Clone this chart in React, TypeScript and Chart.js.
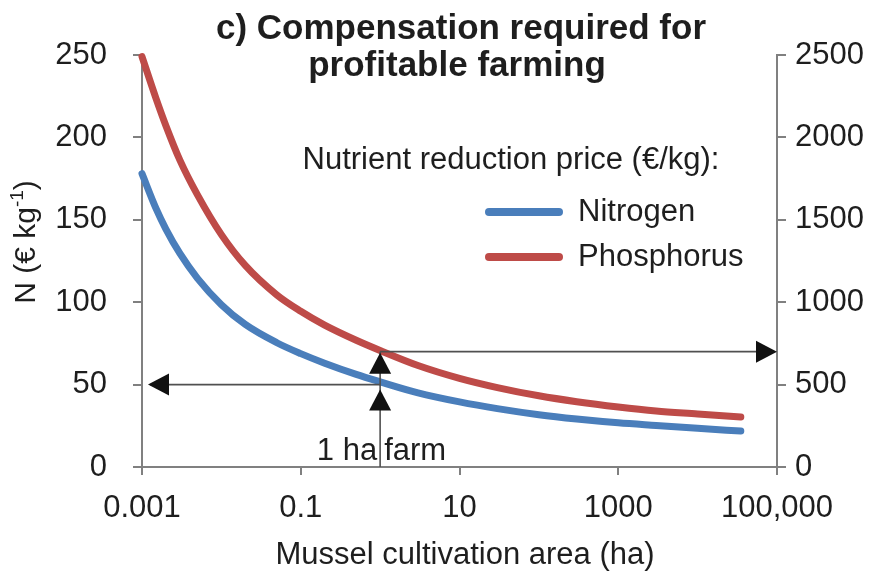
import React, { useEffect, useRef } from 'react';
import { Chart, registerables } from 'chart.js';

Chart.register(...registerables);

// Mussel cultivation area (ha)
const areaHa = [0.001, 0.0015, 0.002, 0.003, 0.005, 0.01, 0.02, 0.05, 0.1, 0.2, 0.5, 1, 3, 10, 30, 100, 300, 1000, 3000, 10000, 35000];
// Nitrogen price (€/kg), left axis
const nitrogenPrice = [178, 156.9, 144.4, 129.6, 114.5, 98.5, 86.5, 75.4, 68.8, 63, 56.2, 51.7, 45, 39.5, 35.4, 31.7, 29.1, 26.8, 25.2, 23.5, 21.8];
// Phosphorus price (€/kg), right axis
const phosphorusPrice = [2490, 2237, 2071, 1862, 1651, 1410, 1223, 1044, 945, 861, 769, 707, 616, 538, 482, 432, 396, 364, 340, 322, 303];

const xTickValues = [0.001, 0.1, 10, 1000, 100000];
const xTickLabels = ['0.001', '0.1', '10', '1000', '100,000'];

const titleLines = ['c) Compensation required for', 'profitable farming'];
const legendTitle = 'Nutrient reduction price (€/kg):';
const seriesNames = ['Nitrogen', 'Phosphorus'];
const seriesColors = ['#4A7EBB', '#BE4B48'];

// 1 ha farm annotation
const farmArea = 1;
const farmNitrogen = 50;
const farmPhosphorus = 700;
const farmLabel = ['1 ha', 'farm'];

const FONT = '"Liberation Sans", Arial, sans-serif';
const TEXT = '#1e1e1e';
const AXIS = '#808080';
const FS = 31;

const overlayPlugin = {
  id: 'overlay',
  afterDatasetsDraw(chart: any) {
    const ctx = chart.ctx as CanvasRenderingContext2D;
    const xs = chart.scales.x;
    const ys = chart.scales.y;
    const y1s = chart.scales.y1;
    const fx = xs.getPixelForValue(farmArea);
    const yN = ys.getPixelForValue(farmNitrogen);
    const yP = y1s.getPixelForValue(farmPhosphorus);
    const yB = ys.getPixelForValue(0);

    ctx.save();
    ctx.strokeStyle = '#505050';
    ctx.lineWidth = 1.6;
    const line = (a: number, b: number, c: number, d: number) => {
      ctx.beginPath();
      ctx.moveTo(a, b);
      ctx.lineTo(c, d);
      ctx.stroke();
    };
    line(fx, yB, fx, yP);
    line(fx, yN, xs.left + 8, yN);
    line(fx, yP, xs.right - 4, yP);

    ctx.fillStyle = '#111';
    const tri = (p: number[][]) => {
      ctx.beginPath();
      ctx.moveTo(p[0][0], p[0][1]);
      ctx.lineTo(p[1][0], p[1][1]);
      ctx.lineTo(p[2][0], p[2][1]);
      ctx.closePath();
      ctx.fill();
    };
    const L = 21, H = 11;
    let t = yN + 5;
    tri([[fx, t], [fx - H, t + L], [fx + H, t + L]]);
    t = yP + 1;
    tri([[fx, t], [fx - H, t + L], [fx + H, t + L]]);
    let tx = xs.left + 6;
    tri([[tx, yN], [tx + L, yN - H], [tx + L, yN + H]]);
    tx = xs.right;
    tri([[tx, yP], [tx - L, yP - H], [tx - L, yP + H]]);

    ctx.fillStyle = TEXT;
    ctx.font = `${FS}px ${FONT}`;
    ctx.textBaseline = 'alphabetic';
    ctx.textAlign = 'right';
    ctx.fillText(farmLabel[0], fx - 3, yB - 7);
    ctx.textAlign = 'left';
    ctx.fillText(farmLabel[1], fx + 4, yB - 7);
    ctx.restore();
  },
  afterDraw(chart: any) {
    const ctx = chart.ctx as CanvasRenderingContext2D;
    ctx.save();
    ctx.fillStyle = TEXT;
    ctx.textBaseline = 'alphabetic';

    // title
    ctx.font = `bold 35px ${FONT}`;
    ctx.textAlign = 'center';
    ctx.fillText(titleLines[0], 461, 39);
    ctx.fillText(titleLines[1], 457, 76);

    // legend
    ctx.font = `${FS}px ${FONT}`;
    ctx.textAlign = 'center';
    ctx.fillText(legendTitle, 511, 169);
    const rows = [212, 257];
    rows.forEach((ry, i) => {
      ctx.strokeStyle = seriesColors[i];
      ctx.lineWidth = 8;
      ctx.lineCap = 'round';
      ctx.beginPath();
      ctx.moveTo(489, ry);
      ctx.lineTo(559, ry);
      ctx.stroke();
      ctx.textAlign = 'left';
      ctx.fillText(seriesNames[i], 578, ry + 9);
    });

    // x axis title
    ctx.textAlign = 'center';
    ctx.fillText('Mussel cultivation area (ha)', 465, 564);

    // y axis title with superscript
    ctx.translate(35, 242);
    ctx.rotate(-Math.PI / 2);
    const main = 'N (€ kg';
    const sup = '-1';
    const close = ')';
    ctx.font = `30px ${FONT}`;
    const w1 = ctx.measureText(main).width;
    const w3 = ctx.measureText(close).width;
    ctx.font = `19px ${FONT}`;
    const w2 = ctx.measureText(sup).width;
    let sx = -(w1 + w2 + w3) / 2;
    ctx.textAlign = 'left';
    ctx.font = `30px ${FONT}`;
    ctx.fillText(main, sx, 0);
    sx += w1;
    ctx.font = `19px ${FONT}`;
    ctx.fillText(sup, sx, -12);
    sx += w2;
    ctx.font = `30px ${FONT}`;
    ctx.fillText(close, sx, 0);
    ctx.restore();
  },
};

export default function App() {
  const ref = useRef<HTMLCanvasElement | null>(null);

  useEffect(() => {
    document.body.style.margin = '0';
    const canvas = ref.current;
    if (!canvas) return;
    const tickFont = { family: FONT, size: FS };
    const mkSet = (i: number, values: number[], axis: string) => ({
      label: seriesNames[i],
      data: areaHa.map((a, k) => ({ x: a, y: values[k] })),
      yAxisID: axis,
      borderColor: seriesColors[i],
      borderWidth: 7,
      pointRadius: 0,
      cubicInterpolationMode: 'monotone',
      fill: false,
      clip: 12,
      borderCapStyle: 'round',
    });
    const chart = new Chart(canvas, {
      type: 'line',
      data: {
        datasets: [mkSet(0, nitrogenPrice, 'y'), mkSet(1, phosphorusPrice, 'y1')],
      },
      options: {
        responsive: false,
        animation: false,
        layout: { padding: { top: 55, left: 0, right: 0, bottom: 0 } },
        plugins: {
          legend: { display: false },
          tooltip: { enabled: false },
          title: { display: false },
        },
        scales: {
          x: {
            type: 'logarithmic',
            min: 0.001,
            max: 100000,
            afterBuildTicks: (s: any) => {
              s.ticks = xTickValues.map((v) => ({ value: v }));
            },
            afterFit: (s: any) => {
              s.height = 105;
            },
            ticks: {
              autoSkip: false,
              maxRotation: 0,
              padding: 15,
              color: TEXT,
              font: tickFont,
              callback: (_v: any, i: number) => xTickLabels[i],
            },
            grid: { drawOnChartArea: false, drawTicks: true, tickLength: 8, color: AXIS, lineWidth: 2 },
            border: { display: true, color: AXIS, width: 2 },
          },
          y: {
            position: 'left',
            min: 0,
            max: 250,
            afterFit: (s: any) => {
              s.width = 142;
            },
            ticks: { stepSize: 50, padding: 26, color: TEXT, font: tickFont, callback: (v: any) => String(v) },
            grid: { drawOnChartArea: false, drawTicks: true, tickLength: 9, color: AXIS, lineWidth: 2 },
            border: { display: true, color: AXIS, width: 2 },
          },
          y1: {
            position: 'right',
            min: 0,
            max: 2500,
            afterFit: (s: any) => {
              s.width = 98;
            },
            ticks: { stepSize: 500, padding: 9, color: TEXT, font: tickFont, callback: (v: any) => String(v) },
            grid: { drawOnChartArea: false, drawTicks: true, tickLength: 9, color: AXIS, lineWidth: 2 },
            border: { display: true, color: AXIS, width: 2 },
          },
        } as any,
      },
      plugins: [overlayPlugin],
    } as any);
    return () => chart.destroy();
  }, []);

  return (
    <div style={{ position: 'absolute', left: 0, top: 0, width: 875, height: 572, background: '#fff' }}>
      <canvas ref={ref} width={875} height={572} />
    </div>
  );
}
